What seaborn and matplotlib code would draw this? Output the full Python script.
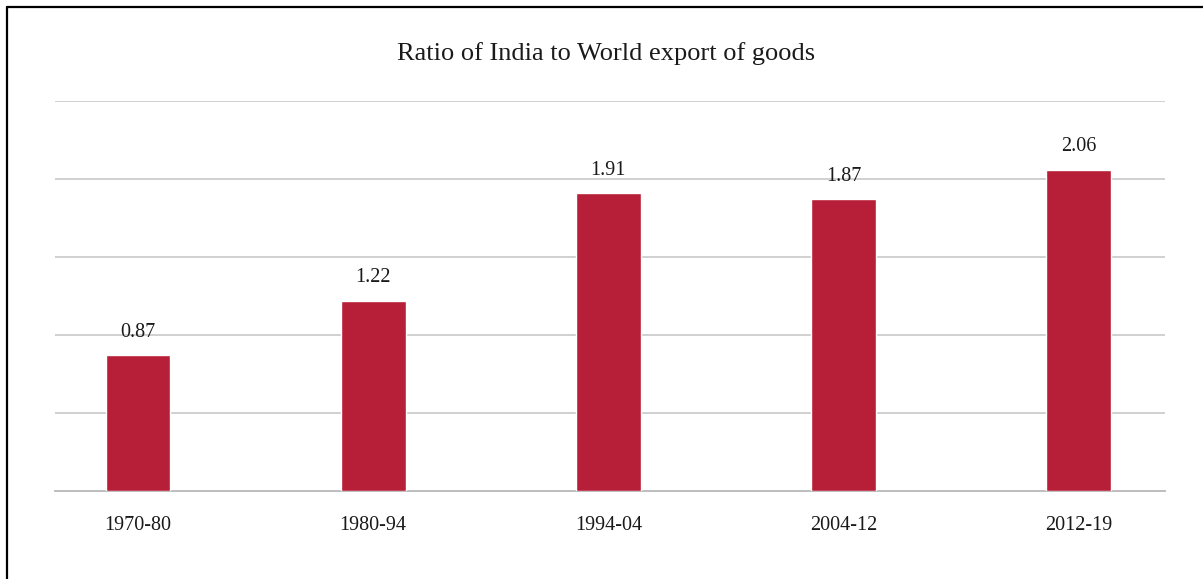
import matplotlib
matplotlib.use("Agg")
import matplotlib.pyplot as plt
import seaborn as sns
import pandas as pd
from matplotlib.lines import Line2D

periods = ["1970-80", "1980-94", "1994-04", "2004-12", "2012-19"]
ratios = [0.87, 1.22, 1.91, 1.87, 2.06]
title = "Ratio of India to World export of goods"

bar_color = "#B71F38"
grid_color = "#C8C8C8"

sns.set_theme(style="white")
plt.rcParams["font.family"] = ["Liberation Serif", "DejaVu Serif"]

df = pd.DataFrame({"period": periods, "ratio": ratios})

fig = plt.figure(figsize=(12.03, 5.79), dpi=100)
W, H = 1203, 579
ax = fig.add_axes([55 / W, 1 - 491 / H, (1165 - 55) / W, (491 - 101) / H])

sns.barplot(data=df, x="period", y="ratio", color=bar_color, width=0.276,
            saturation=1, ax=ax, zorder=3)

ax.set_ylim(0, 2.5)
ax.set_xlim(-0.353, 4.367)
ax.set_yticks([0, 0.5, 1.0, 1.5, 2.0, 2.5])
ax.yaxis.grid(True, color=grid_color, linewidth=1.2, zorder=0)
ax.set_axisbelow(True)
ax.tick_params(axis="y", left=False, labelleft=False)
ax.tick_params(axis="x", bottom=False, labelsize=14.5, pad=12, colors="#1a1a1a")
for s in ["top", "right", "left"]:
    ax.spines[s].set_visible(False)
ax.spines["bottom"].set_color("#BEBEBE")
ax.spines["bottom"].set_linewidth(1.4)
ax.set_xlabel("")
ax.set_ylabel("")

for i, v in enumerate(ratios):
    ax.annotate(f"{v:.2f}", (i, v), xytext=(0, 9.5), textcoords="offset points",
                ha="center", va="bottom", fontsize=14.5, color="#1a1a1a")

fig.text(606 / W, 1 - 54 / H, title, ha="center", va="center",
         fontsize=19, color="#1a1a1a")

# frame around the figure
fig.add_artist(Line2D([7 / W, 7 / W], [1 - 7 / H, 0], color="black",
                      linewidth=1.6, transform=fig.transFigure))
fig.add_artist(Line2D([7 / W, 1], [1 - 7 / H, 1 - 7 / H], color="black",
                      linewidth=1.6, transform=fig.transFigure))

fig.savefig("out.png", dpi=100)
